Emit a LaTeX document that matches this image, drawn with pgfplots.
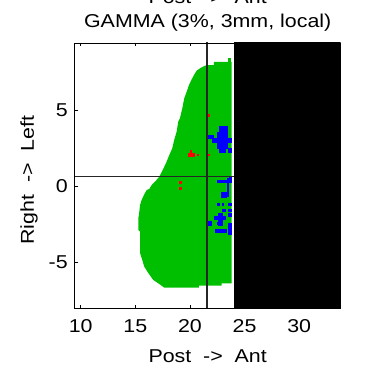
\documentclass[border=0pt]{standalone}
\usepackage{fontspec}
\setmainfont{Liberation Sans}[FakeStretch=1.15]
\usepackage{pgfplots}
\usepackage{pgfplotstable}
\pgfplotsset{compat=1.18}
\definecolor{mgreen}{RGB}{0,190,0}
\newcommand\lblfont{\fontsize{18.6}{22}\selectfont}

% passing region outline (gamma < 1)
\pgfplotstableread{
x y
23.82 8.16
22.20 8.16
22.20 7.96
21.53 7.96
21.07 7.81
20.61 7.59
20.37 7.30
20.16 7.02
19.91 6.64
19.70 6.20
19.48 5.77
19.30 5.11
19.08 4.45
18.93 4.23
18.78 3.57
18.56 3.03
18.38 2.48
18.11 2.04
17.80 1.49
17.50 1.05
17.19 0.61
16.80 0.28
16.50 0.07
16.28 -0.20
16.04 -0.26
15.79 -0.59
15.58 -0.92
15.43 -1.25
15.33 -1.91
15.27 -2.11
15.27 -2.89
15.43 -3.01
15.43 -4.41
15.58 -4.74
15.82 -5.31
16.18 -5.72
16.64 -6.18
17.10 -6.40
17.65 -6.69
20.82 -6.69
20.82 -6.56
22.90 -6.56
22.90 -6.40
23.82 -6.40
}\greenreg

\begin{document}
\begin{tikzpicture}
\begin{axis}[
  scale only axis, width=266pt, height=265.5pt,
  xmin=9.45, xmax=33.8, ymin=-8.06, ymax=9.41,
  xtick={10,15,20,25,30}, ytick={-5,0,5},
  tick align=inside, major tick length=3pt,
  axis on top,
  tick style={black, line width=0.7pt},
  axis line style={line width=0.8pt},
  /pgf/number format/assume math mode=true,
  tick label style={font=\lblfont},
  xticklabel style={yshift=-7.6pt},
  yticklabel style={xshift=-3.5pt},
  xlabel={Post~~->~~Ant},
  ylabel={Right~~->~~Left},
  label style={font=\lblfont},
  xlabel style={at={(axis description cs:0.5,0)}, anchor=base, yshift=-54.2pt},
  ylabel style={at={(axis description cs:-0.153,0.484)}, anchor=base},
]
% green: passing
\addplot[fill=mgreen, draw=none] table {\greenreg} -- cycle;
\addplot[fill=mgreen, draw=none] coordinates {(23.50,8.10) (23.75,8.10) (23.75,8.42) (23.50,8.42)} -- cycle;

% red: failing (gamma > 1, overdose)
\addplot[fill=red, draw=none] coordinates {(21.58,4.56) (21.83,4.56) (21.83,4.74) (21.58,4.74)} -- cycle;
\addplot[fill=red, draw=none] coordinates {(20.61,1.95) (20.82,1.95) (20.82,2.12) (20.61,2.12)} -- cycle;
\addplot[fill=red, draw=none] coordinates {(21.58,1.95) (21.83,1.95) (21.83,2.12) (21.58,2.12)} -- cycle;
\addplot[fill=red, draw=none] coordinates {(20.00,2.10) (20.21,2.10) (20.21,2.37) (20.00,2.37)} -- cycle;
\addplot[fill=red, draw=none] coordinates {(19.84,1.93) (20.46,1.93) (20.46,2.14) (19.84,2.14)} -- cycle;
\addplot[fill=red, draw=none] coordinates {(19.02,0.16) (19.24,0.16) (19.24,0.35) (19.02,0.35)} -- cycle;
\addplot[fill=red, draw=none] coordinates {(19.02,-0.24) (19.24,-0.24) (19.24,-0.04) (19.02,-0.04)} -- cycle;

% blue: failing (underdose)
\addplot[fill=blue, draw=none] coordinates {(22.66,3.53) (23.45,3.53) (23.45,3.95) (22.66,3.95)} -- cycle;
\addplot[fill=blue, draw=none] coordinates {(22.44,3.12) (23.45,3.12) (23.45,3.55) (22.44,3.55)} -- cycle;
\addplot[fill=blue, draw=none] coordinates {(21.58,3.12) (22.20,3.12) (22.20,3.36) (21.58,3.36)} -- cycle;
\addplot[fill=blue, draw=none] coordinates {(22.00,2.81) (23.82,2.81) (23.82,3.14) (22.00,3.14)} -- cycle;
\addplot[fill=blue, draw=none] coordinates {(22.44,2.46) (23.45,2.46) (23.45,2.83) (22.44,2.83)} -- cycle;
\addplot[fill=blue, draw=none] coordinates {(22.66,2.15) (23.27,2.15) (23.27,2.48) (22.66,2.48)} -- cycle;
\addplot[fill=blue, draw=none] coordinates {(23.50,2.15) (23.82,2.15) (23.82,2.48) (23.50,2.48)} -- cycle;

\addplot[fill=blue, draw=none] coordinates {(23.36,-0.72) (23.60,-0.72) (23.60,0.55) (23.36,0.55)} -- cycle;
\addplot[fill=blue, draw=none] coordinates {(23.58,0.40) (23.82,0.40) (23.82,0.58) (23.58,0.58)} -- cycle;
\addplot[fill=blue, draw=none] coordinates {(22.50,0.18) (23.82,0.18) (23.82,0.40) (22.50,0.40)} -- cycle;
\addplot[fill=blue, draw=none] coordinates {(22.80,-0.81) (23.38,-0.81) (23.38,-0.37) (22.80,-0.37)} -- cycle;
\addplot[fill=blue, draw=none] coordinates {(22.44,-1.30) (22.74,-1.30) (22.74,-1.14) (22.44,-1.14)} -- cycle;
\addplot[fill=blue, draw=none] coordinates {(22.90,-1.30) (23.11,-1.30) (23.11,-1.14) (22.90,-1.14)} -- cycle;
\addplot[fill=blue, draw=none] coordinates {(23.50,-1.30) (23.82,-1.30) (23.82,-1.14) (23.50,-1.14)} -- cycle;
\addplot[fill=blue, draw=none] coordinates {(22.96,-1.69) (23.27,-1.69) (23.27,-1.53) (22.96,-1.53)} -- cycle;
\addplot[fill=blue, draw=none] coordinates {(23.50,-1.69) (23.82,-1.69) (23.82,-1.53) (23.50,-1.53)} -- cycle;
\addplot[fill=blue, draw=none] coordinates {(22.20,-2.25) (23.27,-2.25) (23.27,-2.00) (22.20,-2.00)} -- cycle;
\addplot[fill=blue, draw=none] coordinates {(22.60,-2.60) (23.00,-2.60) (23.00,-1.76) (22.60,-1.76)} -- cycle;
\addplot[fill=blue, draw=none] coordinates {(23.50,-2.02) (23.82,-2.02) (23.82,-1.78) (23.50,-1.78)} -- cycle;
\addplot[fill=blue, draw=none] coordinates {(21.62,-2.61) (22.01,-2.61) (22.01,-2.30) (21.62,-2.30)} -- cycle;
\addplot[fill=blue, draw=none] coordinates {(22.44,-2.57) (22.96,-2.57) (22.96,-2.35) (22.44,-2.35)} -- cycle;
\addplot[fill=blue, draw=none] coordinates {(22.29,-3.07) (23.36,-3.07) (23.36,-2.85) (22.29,-2.85)} -- cycle;
\addplot[fill=blue, draw=none] coordinates {(23.45,-3.22) (23.82,-3.22) (23.82,-2.41) (23.45,-2.41)} -- cycle;

% black: outside evaluated region
\addplot[fill=black, draw=none] coordinates {(24.03,-9) (35,-9) (35,10) (24.03,10)} -- cycle;

% crosshair
\addplot[black!85, line width=1.2pt] coordinates {(21.56,-9) (21.56,10)};
\addplot[black!85, line width=1.2pt] coordinates {(9,0.61) (24.03,0.61)};
\end{axis}
\node[anchor=base, font=\lblfont] at ([yshift=15.7pt]current axis.north) {GAMMA (3\%, 3mm, local)};
\node[anchor=base, font=\lblfont] at ([yshift=39.7pt]current axis.north) {Post~~->~~Ant};
\pgfresetboundingbox
\path[use as bounding box] ([xshift=-74.7pt,yshift=-60.5pt]current axis.south west) rectangle ([xshift=38.3pt,yshift=43pt]current axis.north east);
\end{tikzpicture}
\end{document}
